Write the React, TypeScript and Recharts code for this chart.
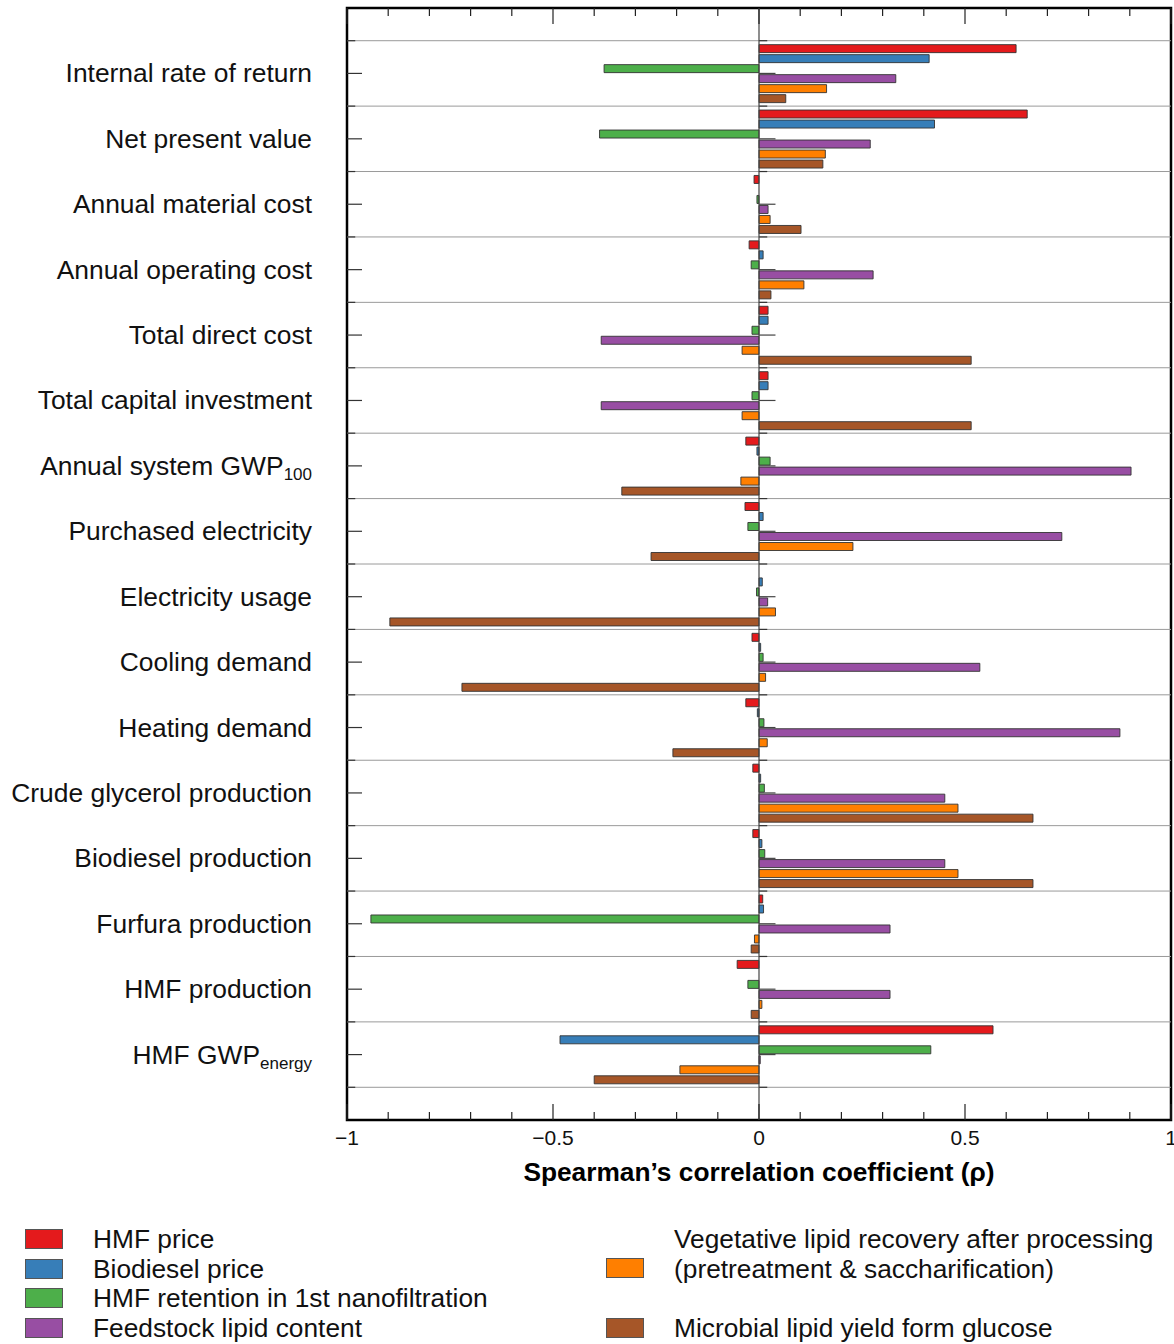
import React from "react";
import { BarChart, Bar, XAxis, YAxis, ReferenceLine, ReferenceArea, Label } from "recharts";

const FONT = "'Liberation Sans', Arial, Helvetica, sans-serif";

const categories = [
  "Internal rate of return",
  "Net present value",
  "Annual material cost",
  "Annual operating cost",
  "Total direct cost",
  "Total capital investment",
  "Annual system GWP",
  "Purchased electricity",
  "Electricity usage",
  "Cooling demand",
  "Heating demand",
  "Crude glycerol production",
  "Biodiesel production",
  "Furfura production",
  "HMF production",
  "HMF GWP",
];
const categorySubs = ["", "", "", "", "", "", "100", "", "", "", "", "", "", "", "", "energy"];

const hmfPrice = [0.624, 0.651, -0.012, -0.024, 0.022, 0.022, -0.032, -0.034, 0, -0.017, -0.032, -0.015, -0.015, 0.009, -0.053, 0.568];
const biodieselPrice = [0.413, 0.426, 0, 0.01, 0.022, 0.022, -0.005, 0.01, 0.008, 0.004, -0.004, 0.004, 0.007, 0.011, 0, -0.483];
const hmfRetention = [-0.376, -0.387, -0.005, -0.019, -0.017, -0.017, 0.027, -0.027, -0.006, 0.01, 0.012, 0.013, 0.014, -0.942, -0.027, 0.417];
const feedstockLipid = [0.332, 0.27, 0.022, 0.277, -0.383, -0.383, 0.903, 0.735, 0.021, 0.536, 0.876, 0.451, 0.451, 0.318, 0.318, 0.003];
const vegLipidRecovery = [0.164, 0.161, 0.027, 0.109, -0.041, -0.041, -0.044, 0.228, 0.04, 0.016, 0.02, 0.483, 0.483, -0.011, 0.007, -0.192];
const microbialYield = [0.065, 0.155, 0.102, 0.029, 0.515, 0.515, -0.333, -0.262, -0.896, -0.721, -0.209, 0.665, 0.665, -0.019, -0.019, -0.4];

const seriesKeys = ["hmfPrice", "biodieselPrice", "hmfRetention", "feedstockLipid", "vegLipidRecovery", "microbialYield"];
const seriesNames = [
  "HMF price",
  "Biodiesel price",
  "HMF retention in 1st nanofiltration",
  "Feedstock lipid content",
  "Vegetative lipid recovery after processing (pretreatment & saccharification)",
  "Microbial lipid yield form glucose",
];
const seriesColors = ["#E41A1C", "#377EB8", "#4DAF4A", "#984EA3", "#FF7F00", "#A65628"];

const xTicks = [-1, -0.9, -0.8, -0.7, -0.6, -0.5, -0.4, -0.3, -0.2, -0.1, 0, 0.1, 0.2, 0.3, 0.4, 0.5, 0.6, 0.7, 0.8, 0.9, 1];
const xTickLabels: Record<string, string> = { "-1": "\u22121", "-0.5": "\u22120.5", "0": "0", "0.5": "0.5", "1": "1" };

const data = categories.map((name, i) => ({
  name,
  pos: i + 1,
  hmfPrice: hmfPrice[i],
  biodieselPrice: biodieselPrice[i],
  hmfRetention: hmfRetention[i],
  feedstockLipid: feedstockLipid[i],
  vegLipidRecovery: vegLipidRecovery[i],
  microbialYield: microbialYield[i],
}));

const centers = categories.map((_, i) => i + 1);
const boundaries = [...categories.map((_, i) => i + 0.5), categories.length + 0.5];

const PLOT_TOP = 8;
const PLOT_BOTTOM = 1120;
const PLOT_H = PLOT_BOTTOM - PLOT_TOP;
const HALF_BAND = PLOT_H / (categories.length + 1) / 2;

const isMajor = (v: number) => Math.abs(v * 2 - Math.round(v * 2)) < 1e-9;

const BottomTick = (props: any) => {
  const { x, y, payload } = props;
  const v = payload.value as number;
  const major = isMajor(v);
  const lbl = xTickLabels[String(v)];
  return (
    <g>
      <line x1={x} x2={x} y1={y} y2={y - (major ? 16 : 8)} stroke="#222" strokeWidth={1.2} />
      {major && lbl !== undefined && (
        <text x={x} y={y + 25} textAnchor="middle" fontSize={21} fontFamily={FONT} fill="#111">
          {lbl}
        </text>
      )}
    </g>
  );
};

const TopTick = (props: any) => {
  const { x, y, payload } = props;
  const v = payload.value as number;
  const major = isMajor(v);
  return <line x1={x} x2={x} y1={y} y2={y + (major ? 16 : 8)} stroke="#222" strokeWidth={1.2} />;
};

const YTick = (props: any) => {
  const { x, y, payload } = props;
  const i = categories.indexOf(payload.value);
  const sub = categorySubs[i];
  return (
    <g>
      <line x1={x} x2={x + 15} y1={y} y2={y} stroke="#333" strokeWidth={1.2} />
      <text x={x - 35} y={y + 9} textAnchor="end" fontSize={26.4} fontFamily={FONT} fill="#111">
        <tspan>{payload.value}</tspan>
        {sub ? (
          <tspan fontSize={17} dy={5}>
            {sub}
          </tspan>
        ) : null}
      </text>
    </g>
  );
};

const boxStyle = (color: string): React.CSSProperties => ({
  position: "absolute",
  width: 38,
  height: 20,
  background: color,
  border: "1px solid #555",
  boxSizing: "border-box",
});
const textStyle: React.CSSProperties = {
  position: "absolute",
  fontSize: 26.3,
  fontFamily: FONT,
  color: "#111",
  lineHeight: "30px",
  whiteSpace: "nowrap",
};

export default function App() {
  const leftItems = [0, 1, 2, 3];
  return (
    <div style={{ position: "absolute", left: 0, top: 0, width: 1174, height: 1344, overflow: "hidden", background: "#fff" }}>
      <BarChart
        width={1174}
        height={1200}
        data={data}
        layout="vertical"
        margin={{ top: 0, right: 3, bottom: 0, left: 0 }}
        barCategoryGap="6%"
        barGap={2}
        style={{ overflow: "visible" }}
      >
        <XAxis
          type="number"
          domain={[-1, 1]}
          ticks={xTicks}
          interval={0}
          allowDataOverflow
          height={80}
          tickSize={0}
          tickMargin={0}
          axisLine={false}
          tickLine={false}
          tick={<BottomTick />}
        >
          <Label
            value={"Spearman\u2019s correlation coefficient (\u03c1)"}
            position="insideBottom"
            offset={19}
            style={{ fontSize: 26.3, fontWeight: "bold", fontFamily: FONT, fill: "#000" }}
          />
        </XAxis>
        <XAxis
          xAxisId="top"
          orientation="top"
          type="number"
          domain={[-1, 1]}
          ticks={xTicks}
          interval={0}
          allowDataOverflow
          height={8}
          tickSize={0}
          tickMargin={0}
          axisLine={false}
          tickLine={false}
          tick={<TopTick />}
        />
        <YAxis
          type="category"
          dataKey="name"
          width={347}
          interval={0}
          tickSize={0}
          tickMargin={0}
          axisLine={false}
          tickLine={false}
          padding={{ top: HALF_BAND, bottom: HALF_BAND }}
          tick={<YTick />}
        />
        <YAxis
          yAxisId="n"
          dataKey="pos"
          type="number"
          domain={[0, categories.length + 1]}
          reversed
          hide
          allowDataOverflow
        />

        {boundaries.map((b) => (
          <ReferenceLine key={"g" + b} yAxisId="n" y={b} stroke="#9a9a9a" strokeWidth={1} />
        ))}
        {boundaries.map((b) => (
          <ReferenceLine
            key={"lb" + b}
            yAxisId="n"
            segment={[{ x: -1, y: b }, { x: -0.98, y: b }]}
            stroke="#333"
            strokeWidth={1.2}
          />
        ))}
        {boundaries.map((b) => (
          <ReferenceLine
            key={"zb" + b}
            yAxisId="n"
            segment={[{ x: 0, y: b }, { x: 0.02, y: b }]}
            stroke="#333"
            strokeWidth={1.2}
          />
        ))}
        {centers.map((c) => (
          <ReferenceLine
            key={"zc" + c}
            yAxisId="n"
            segment={[{ x: 0, y: c }, { x: 0.04, y: c }]}
            stroke="#444"
            strokeWidth={1.2}
          />
        ))}

        {seriesKeys.map((k, i) => (
          <Bar
            key={k}
            dataKey={k}
            name={seriesNames[i]}
            fill={seriesColors[i]}
            stroke="#333"
            strokeWidth={0.9}
            isAnimationActive={false}
          />
        ))}

        <ReferenceLine yAxisId="n" x={0} stroke="#444" strokeWidth={1.2} />
        <ReferenceArea
          yAxisId="n"
          x1={-1}
          x2={1}
          y1={0}
          y2={categories.length + 1}
          fill="none"
          fillOpacity={0}
          stroke="#000"
          strokeWidth={2.5}
          ifOverflow="visible"
        />
      </BarChart>

      {leftItems.map((i) => (
        <React.Fragment key={"l" + i}>
          <div style={{ ...boxStyle(seriesColors[i]), left: 25, top: 1229 + i * 29.7 }} />
          <div style={{ ...textStyle, left: 93, top: 1224 + i * 29.7 }}>{seriesNames[i]}</div>
        </React.Fragment>
      ))}
      <div style={{ ...boxStyle(seriesColors[4]), left: 606, top: 1258 }} />
      <div style={{ ...textStyle, left: 674, top: 1224 }}>Vegetative lipid recovery after processing</div>
      <div style={{ ...textStyle, left: 674, top: 1254 }}>(pretreatment &amp; saccharification)</div>
      <div style={{ ...boxStyle(seriesColors[5]), left: 606, top: 1318 }} />
      <div style={{ ...textStyle, left: 674, top: 1313 }}>{seriesNames[5]}</div>
    </div>
  );
}
